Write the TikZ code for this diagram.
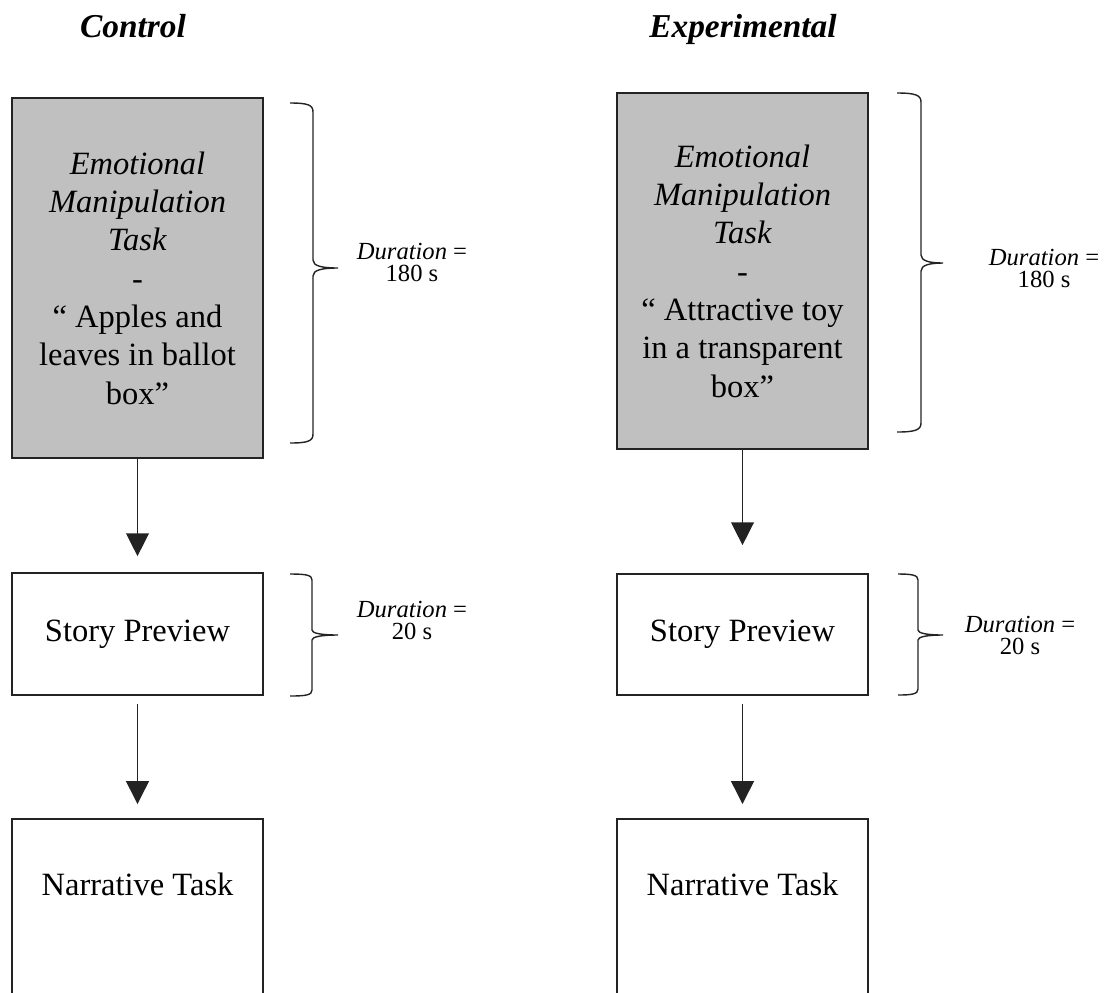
\documentclass[tikz,border=0pt]{standalone}
\usepackage{fontspec}
\setmainfont{Liberation Serif}
\usetikzlibrary{arrows.meta}

\begin{document}
\begin{tikzpicture}[
        x=0.02cm, y=-0.02cm,
        title_node/.style={font=\fontsize{19}{22}\selectfont\bfseries\itshape, anchor=base},
        task_box/.style={draw=boxline, line width=1pt, minimum width=5.02cm, align=center, inner sep=2pt, font=\fontsize{18.5}{21.8}\selectfont},
        manip_box/.style={task_box, fill=boxgray},
        narr_box/.style={task_box, anchor=north, text height=0.5cm, text depth=5cm, inner ysep=1.04cm},
        dur_node/.style={align=center, font=\fontsize{14}{12.5}\selectfont},
        flow/.style={line width=0.8pt, draw=boxline, -{Triangle[width=13pt, length=13pt]}},
        brace_line/.style={line width=0.8pt, draw=boxline}
    ]

        \definecolor{boxgray}{RGB}{192, 192, 192}
        \definecolor{boxline}{RGB}{35, 35, 35}

        \useasboundingbox (0,0) rectangle (1108,992);

        \node[title_node] (ctitle) at (133,37) {Control};
        \node[title_node] (etitle) at (743,37) {Experimental};

        \node[manip_box, minimum height=7.2cm] (cmanip) at (137.5,278) {\textit{Emotional}\\ \textit{Manipulation}\\ \textit{Task}\\ -\\ “ Apples and\\ leaves in ballot\\ box”};
        \node[task_box, minimum height=2.44cm] (cstory) at (137.5,634) {Story Preview};
        \node[narr_box] (cnarr) at (137.5,818) {Narrative Task};

        \node[manip_box, minimum height=7.12cm] (emanip) at (742.5,271) {\textit{Emotional}\\ \textit{Manipulation}\\ \textit{Task}\\ -\\ “ Attractive toy\\ in a transparent\\ box”};
        \node[task_box, minimum height=2.42cm] (estory) at (742.5,634.5) {Story Preview};
        \node[narr_box] (enarr) at (742.5,818) {Narrative Task};

        \draw[flow, shorten >=0.32cm] (cmanip) -- (cstory);
        \draw[flow, shorten <=0.16cm, shorten >=0.28cm] (cstory) -- (cnarr);
        \draw[flow, shorten >=0.56cm] (emanip) -- (estory);
        \draw[flow, shorten <=0.16cm, shorten >=0.28cm] (estory) -- (enarr);

        \draw[brace_line] (290,103) .. controls (308,103) and (313,105) .. (313,112) -- (313,260)
                    .. controls (313,266) and (322,268) .. (338,268)
                    .. controls (322,268) and (313,270) .. (313,276) -- (313,434)
                    .. controls (313,441) and (308,443) .. (290,443);
        \draw[brace_line] (897,93) .. controls (915,93) and (921,95) .. (921,102) -- (921,255)
                    .. controls (921,261) and (930,263) .. (943,263)
                    .. controls (930,263) and (921,265) .. (921,271) -- (921,423)
                    .. controls (921,430) and (915,432) .. (897,432);
        \draw[brace_line] (290,574) .. controls (306,574) and (312,575) .. (312,580) -- (312,630)
                    .. controls (312,633) and (320,635) .. (338,635)
                    .. controls (320,635) and (312,637) .. (312,640) -- (312,690)
                    .. controls (312,695) and (306,696) .. (290,696);
        \draw[brace_line] (898,574) .. controls (912,574) and (918,575) .. (918,580) -- (918,630)
                    .. controls (918,633) and (926,635) .. (943,635)
                    .. controls (926,635) and (918,637) .. (918,640) -- (918,689)
                    .. controls (918,694) and (912,695) .. (898,695);

        \node[dur_node] (cdur1) at (412,262) {\textit{Duration} =\\ 180 s};
        \node[dur_node] (edur1) at (1044,268) {\textit{Duration} =\\ 180 s};
        \node[dur_node] (cdur2) at (412,620) {\textit{Duration} =\\ 20 s};
        \node[dur_node] (edur2) at (1020,635) {\textit{Duration} =\\ 20 s};
    \end{tikzpicture}
\end{document}
